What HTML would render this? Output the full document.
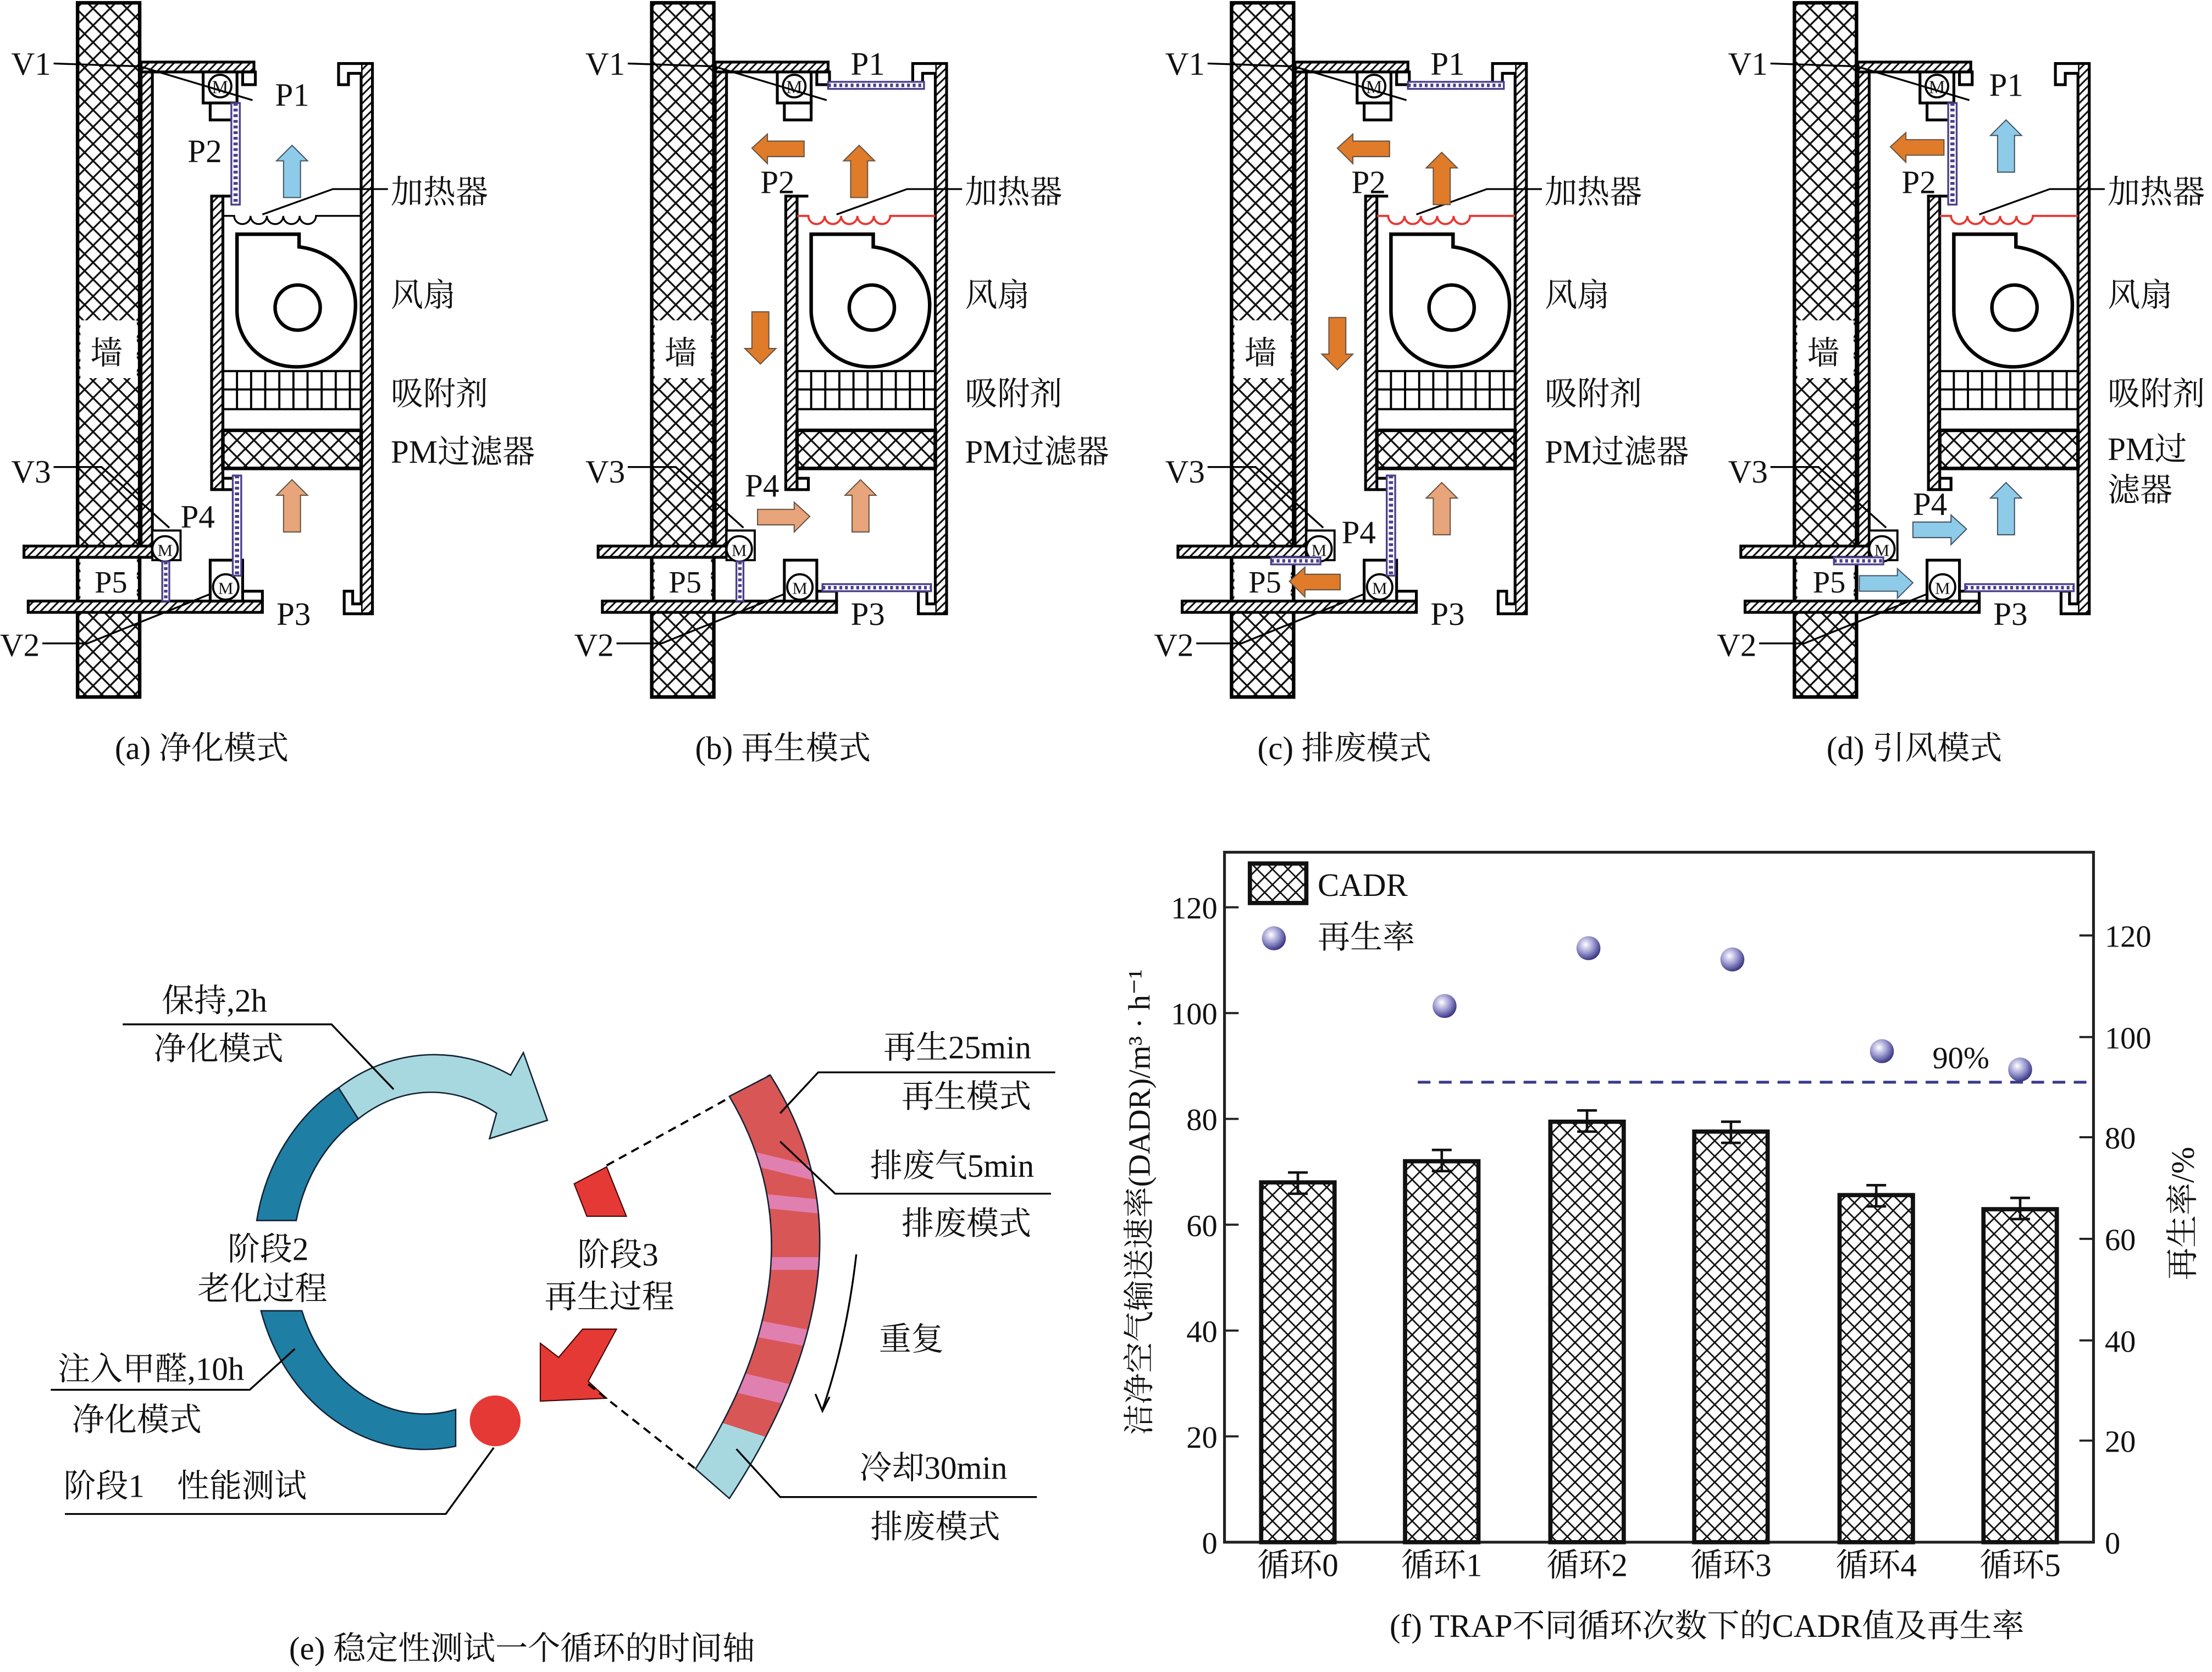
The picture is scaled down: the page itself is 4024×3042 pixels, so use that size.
<!DOCTYPE html>
<html><head><meta charset="utf-8"><style>
html,body{margin:0;padding:0;background:#fff;}
svg{display:block;}
text{font-family:"Liberation Serif","Noto Serif CJK SC",serif;fill:#111;}
</style></head><body>
<svg width="4024" height="3042" viewBox="0 0 1568 1185" preserveAspectRatio="none" xmlns="http://www.w3.org/2000/svg">
<defs>
 <pattern id="xh" patternUnits="userSpaceOnUse" width="12" height="12">
  <rect width="12" height="12" fill="#fff"/>
  <path d="M0,0 L12,12 M12,0 L0,12" stroke="#111" stroke-width="1.3"/>
 </pattern>
 <pattern id="xb" patternUnits="userSpaceOnUse" width="11" height="11">
  <rect width="11" height="11" fill="#fff"/>
  <path d="M0,0 L11,11 M11,0 L0,11" stroke="#111" stroke-width="1.1"/>
 </pattern>
 <pattern id="hs" patternUnits="userSpaceOnUse" width="6" height="6">
  <rect width="6" height="6" fill="#fff"/>
  <path d="M-1,7 L7,-1 M-1,1 L1,-1 M5,7 L7,5" stroke="#111" stroke-width="1.2"/>
 </pattern>
 <radialGradient id="dg" cx="0.38" cy="0.35" r="0.7">
  <stop offset="0" stop-color="#ffffff"/><stop offset="0.5" stop-color="#9a98d0"/><stop offset="1" stop-color="#2e2a78"/>
 </radialGradient>
 <clipPath id="bandclip"><path d="M546,762 Q628.5,892 517,1062 L493,1041 Q587,895 517,777 Z"/></clipPath>

 <g id="base">
  <rect x="55" y="2" width="44" height="492" fill="url(#xh)" stroke="#000" stroke-width="2.5"/>
  <rect x="57" y="227" width="40" height="41" fill="#fff"/>
  <rect x="57" y="395" width="40" height="31" fill="#fff"/>
  <rect x="100" y="51" width="8" height="337" fill="url(#hs)" stroke="#000" stroke-width="2"/>
  <rect x="100" y="44" width="80" height="7" fill="url(#hs)" stroke="#000" stroke-width="2"/>
  <rect x="172" y="51" width="9" height="9" fill="#fff" stroke="#000" stroke-width="2"/>
  <rect x="144" y="51" width="24" height="22" fill="#fff" stroke="#000" stroke-width="2"/>
  <circle cx="156" cy="61" r="8" fill="#fff" stroke="#000" stroke-width="1.5"/>
  <text x="156" y="66" font-size="13" text-anchor="middle">M</text>
  <rect x="149" y="73" width="19" height="12" fill="#fff" stroke="#000" stroke-width="2"/>
  <rect x="256" y="45" width="8" height="390" fill="url(#hs)" stroke="#000" stroke-width="2"/>
  <path d="M256,45 H240 V60 H247 V52 H256" fill="#fff" stroke="#000" stroke-width="2"/>
  <path d="M256,435 H244 V419 H250 V428 H256" fill="#fff" stroke="#000" stroke-width="2"/>
  <rect x="150" y="139" width="8" height="208" fill="url(#hs)" stroke="#000" stroke-width="2"/>
  <path d="M158,139 H166 M158,347 H166 V339 H158" fill="none" stroke="#000" stroke-width="2"/>
  <path d="M168,166 H212 V175 C236,178 252,195 252,216 C252,243 233,260 210,260 C186,260 168,242 168,220 Z" fill="#fff" stroke="#000" stroke-width="2.5"/>
  <circle cx="211" cy="218" r="16" fill="#fff" stroke="#000" stroke-width="2.5"/>
  <path d="M158,263 H256 M158,276 H256 M158,290 H256 M168,263 V290 M178,263 V290 M188,263 V290 M198,263 V290 M208,263 V290 M218,263 V290 M228,263 V290 M238,263 V290 M248,263 V290" stroke="#000" stroke-width="1.5" fill="none"/>
  <rect x="158" y="305" width="98" height="27" fill="url(#xh)" stroke="#000" stroke-width="2.5"/>
  <rect x="17" y="387" width="91" height="8" fill="url(#hs)" stroke="#000" stroke-width="2"/>
  <rect x="20" y="426" width="166" height="8" fill="url(#hs)" stroke="#000" stroke-width="2"/>
  <rect x="172" y="419" width="14" height="7" fill="#fff" stroke="#000" stroke-width="2"/>
  <rect x="108" y="376" width="20" height="21" fill="#fff" stroke="#000" stroke-width="1.5"/>
  <circle cx="117" cy="389" r="9" fill="#fff" stroke="#000" stroke-width="1.5"/>
  <text x="117" y="394" font-size="12" text-anchor="middle">M</text>
  <rect x="149" y="397" width="23" height="29" fill="#fff" stroke="#000" stroke-width="2"/>
  <circle cx="160" cy="416" r="9" fill="#fff" stroke="#000" stroke-width="1.5"/>
  <text x="160" y="421" font-size="12" text-anchor="middle">M</text>
  <path d="M38,45 L99,47 L179,71 M275,134 H236 L186,152 M38,331 H72 L120,374 M30,456 H62 L149,421" stroke="#000" stroke-width="1.3" fill="none"/>
 </g>
 <g id="pv1"><rect x="164" y="73" width="6" height="72" fill="#fff" stroke="#4a3f8a" stroke-width="1.3"/><line x1="167" y1="73" x2="167" y2="145" stroke="#4a3f8a" stroke-width="3" stroke-dasharray="2,2"/></g>
 <g id="pv2"><rect x="165" y="337" width="6" height="71" fill="#fff" stroke="#4a3f8a" stroke-width="1.3"/><line x1="168" y1="337" x2="168" y2="408" stroke="#4a3f8a" stroke-width="3" stroke-dasharray="2,2"/></g>
 <g id="pv3"><rect x="115" y="398" width="5" height="28" fill="#fff" stroke="#4a3f8a" stroke-width="1.3"/><line x1="117.5" y1="398" x2="117.5" y2="426" stroke="#4a3f8a" stroke-width="2.5" stroke-dasharray="2,2"/></g>
 <g id="ph1"><rect x="180" y="58" width="68" height="5" fill="#fff" stroke="#4a3f8a" stroke-width="1.3"/><line x1="180" y1="60.5" x2="248" y2="60.5" stroke="#4a3f8a" stroke-width="2.5" stroke-dasharray="2,2"/></g>
 <g id="ph3"><rect x="176" y="414" width="77" height="5" fill="#fff" stroke="#4a3f8a" stroke-width="1.3"/><line x1="176" y1="416.5" x2="253" y2="416.5" stroke="#4a3f8a" stroke-width="2.5" stroke-dasharray="2,2"/></g>
 <g id="phv"><rect x="83" y="395" width="35" height="5" fill="#fff" stroke="#4a3f8a" stroke-width="1.3"/><line x1="83" y1="397.5" x2="118" y2="397.5" stroke="#4a3f8a" stroke-width="2.5" stroke-dasharray="2,2"/></g>
</defs>
<rect width="1568" height="1185" fill="#fff"/>

<!-- Panel a -->
<g>
 <use href="#base"/>
 <use href="#pv1"/><use href="#pv2"/><use href="#pv3"/>
 <path d="M158,153 H166 a5.8,5.8 0 0 0 11.6,0 a5.8,5.8 0 0 0 11.6,0 a5.8,5.8 0 0 0 11.6,0 a5.8,5.8 0 0 0 11.6,0 a5.8,5.8 0 0 0 11.6,0 H256" fill="none" stroke="#000" stroke-width="1.3"/>
 <polygon points="207,103 218,114 213,114 213,140 201,140 201,114 196,114" fill="#8ecbe8" stroke="#456" stroke-width="0.8"/>
 <polygon points="207,340 218,351 213,351 213,377 201,377 201,351 196,351" fill="#e8a47a" stroke="#654" stroke-width="0.8"/>
 <text x="8" y="53" font-size="23">V1</text><text x="195" y="75" font-size="23">P1</text>
 <text x="133" y="115" font-size="23">P2</text>
 <text x="277" y="144" font-size="23">加热器</text><text x="277" y="217" font-size="23">风扇</text>
 <text x="277" y="287" font-size="23">吸附剂</text><text x="277" y="328" font-size="23">PM过滤器</text>
 <text x="8" y="342" font-size="23">V3</text><text x="128" y="374" font-size="23">P4</text>
 <text x="67" y="420" font-size="22">P5</text><text x="196" y="443" font-size="23">P3</text>
 <text x="0" y="465" font-size="23">V2</text><text x="64" y="258" font-size="23">墙</text>
 <text x="143" y="538" font-size="23" text-anchor="middle">(a) 净化模式</text>
</g>

<!-- Panel b -->
<g transform="translate(407,0)">
 <use href="#base"/>
 <use href="#ph1"/><use href="#pv3"/><use href="#ph3"/>
 <path d="M158,153 H166 a5.8,5.8 0 0 0 11.6,0 a5.8,5.8 0 0 0 11.6,0 a5.8,5.8 0 0 0 11.6,0 a5.8,5.8 0 0 0 11.6,0 a5.8,5.8 0 0 0 11.6,0 H256" fill="none" stroke="#e53935" stroke-width="1.5"/>
 <polygon points="126,105 137,95 137,100 163,100 163,111 137,111 137,116" fill="#e07b2a" stroke="#654" stroke-width="0.8"/>
 <polygon points="202,103 213,114 208,114 208,140 196,140 196,114 191,114" fill="#e07b2a" stroke="#654" stroke-width="0.8"/>
 <polygon points="132,258 121,247 126,247 126,221 138,221 138,247 143,247" fill="#e07b2a" stroke="#654" stroke-width="0.8"/>
 <polygon points="167,366 156,356 156,361 130,361 130,372 156,372 156,377" fill="#e8a47a" stroke="#654" stroke-width="0.8"/>
 <polygon points="203,340 214,351 209,351 209,377 197,377 197,351 192,351" fill="#e8a47a" stroke="#654" stroke-width="0.8"/>
 <text x="8" y="53" font-size="23">V1</text><text x="196" y="53" font-size="23">P1</text>
 <text x="132" y="137" font-size="23">P2</text>
 <text x="277" y="144" font-size="23">加热器</text><text x="277" y="217" font-size="23">风扇</text>
 <text x="277" y="287" font-size="23">吸附剂</text><text x="277" y="328" font-size="23">PM过滤器</text>
 <text x="8" y="342" font-size="23">V3</text><text x="121" y="352" font-size="23">P4</text>
 <text x="67" y="420" font-size="22">P5</text><text x="196" y="443" font-size="23">P3</text>
 <text x="0" y="465" font-size="23">V2</text><text x="64" y="258" font-size="23">墙</text>
 <text x="148" y="538" font-size="23" text-anchor="middle">(b) 再生模式</text>
</g>

<!-- Panel c -->
<g transform="translate(818,0)">
 <use href="#base"/>
 <use href="#ph1"/><use href="#pv2"/><use href="#phv"/>
 <path d="M158,153 H166 a5.8,5.8 0 0 0 11.6,0 a5.8,5.8 0 0 0 11.6,0 a5.8,5.8 0 0 0 11.6,0 a5.8,5.8 0 0 0 11.6,0 a5.8,5.8 0 0 0 11.6,0 H256" fill="none" stroke="#e53935" stroke-width="1.5"/>
 <polygon points="130,105 141,95 141,100 167,100 167,111 141,111 141,116" fill="#e07b2a" stroke="#654" stroke-width="0.8"/>
 <polygon points="204,108 215,119 210,119 210,145 198,145 198,119 193,119" fill="#e07b2a" stroke="#654" stroke-width="0.8"/>
 <polygon points="130,262 119,251 124,251 124,225 136,225 136,251 141,251" fill="#e07b2a" stroke="#654" stroke-width="0.8"/>
 <polygon points="96,412 107,402 107,407 132,407 132,418 107,418 107,423" fill="#e07b2a" stroke="#654" stroke-width="0.8"/>
 <polygon points="204,342 215,353 210,353 210,379 198,379 198,353 193,353" fill="#e8a47a" stroke="#654" stroke-width="0.8"/>
 <text x="8" y="53" font-size="23">V1</text><text x="196" y="53" font-size="23">P1</text>
 <text x="140" y="137" font-size="23">P2</text>
 <text x="277" y="144" font-size="23">加热器</text><text x="277" y="217" font-size="23">风扇</text>
 <text x="277" y="287" font-size="23">吸附剂</text><text x="277" y="328" font-size="23">PM过滤器</text>
 <text x="8" y="342" font-size="23">V3</text><text x="133" y="385" font-size="23">P4</text>
 <text x="67" y="420" font-size="22">P5</text><text x="196" y="443" font-size="23">P3</text>
 <text x="0" y="465" font-size="23">V2</text><text x="64" y="258" font-size="23">墙</text>
 <text x="135" y="538" font-size="23" text-anchor="middle">(c) 排废模式</text>
</g>

<!-- Panel d -->
<g transform="translate(1217,0)">
 <use href="#base"/>
 <use href="#pv1"/><use href="#phv"/><use href="#ph3"/>
 <path d="M158,153 H166 a5.8,5.8 0 0 0 11.6,0 a5.8,5.8 0 0 0 11.6,0 a5.8,5.8 0 0 0 11.6,0 a5.8,5.8 0 0 0 11.6,0 a5.8,5.8 0 0 0 11.6,0 H256" fill="none" stroke="#e53935" stroke-width="1.5"/>
 <polygon points="123,104 134,94 134,99 161,99 161,110 134,110 134,115" fill="#e07b2a" stroke="#654" stroke-width="0.8"/>
 <polygon points="205,85 216,96 211,96 211,122 199,122 199,96 194,96" fill="#8ecbe8" stroke="#456" stroke-width="0.8"/>
 <polygon points="177,375 166,365 166,370 139,370 139,381 166,381 166,386" fill="#8ecbe8" stroke="#456" stroke-width="0.8"/>
 <polygon points="139,413 128,403 128,408 101,408 101,419 128,419 128,424" fill="#8ecbe8" stroke="#456" stroke-width="0.8"/>
 <polygon points="205,342 216,353 211,353 211,379 199,379 199,353 194,353" fill="#8ecbe8" stroke="#456" stroke-width="0.8"/>
 <text x="8" y="53" font-size="23">V1</text><text x="193" y="68" font-size="23">P1</text>
 <text x="131" y="137" font-size="23">P2</text>
 <text x="277" y="144" font-size="23">加热器</text><text x="277" y="217" font-size="23">风扇</text>
 <text x="277" y="287" font-size="23">吸附剂</text><text x="277" y="326" font-size="23">PM过</text><text x="277" y="355" font-size="23">滤器</text>
 <text x="8" y="342" font-size="23">V3</text><text x="139" y="365" font-size="23">P4</text>
 <text x="68" y="420" font-size="22">P5</text><text x="196" y="443" font-size="23">P3</text>
 <text x="0" y="465" font-size="23">V2</text><text x="64" y="258" font-size="23">墙</text>
 <text x="140" y="538" font-size="23" text-anchor="middle">(d) 引风模式</text>
</g>

<!-- Panel e -->
<g>
 <path d="M182,865 A121,137 0 0 1 240,771 L254,793 A93,112 0 0 0 210,865 Z" fill="#1f7ea3" stroke="#123" stroke-width="1"/>
 <path d="M240,771 A121,137 0 0 1 362,762 L371,746 L388,794 L347,807 L352,789 A93,112 0 0 0 254,793 Z" fill="#a8d8df" stroke="#123" stroke-width="1"/>
 <path d="M185,929 A121,137 0 0 0 323,1025 L323,999 A93,112 0 0 1 214,929 Z" fill="#1f7ea3" stroke="#123" stroke-width="1"/>
 <circle cx="351" cy="1007" r="18" fill="#e53935"/>
 <polygon points="407,839 430,827 444,862 416,862" fill="#e53935" stroke="#400" stroke-width="0.8"/>
 <polygon points="383,952 396,962 413,942 437,942 417,979 430,991 383,993" fill="#e53935" stroke="#400" stroke-width="0.8"/>
 <path d="M430,826 L546,762 M417,981 L493,1041" stroke="#000" stroke-width="1.5" stroke-dasharray="6,4" fill="none"/>
 <g clip-path="url(#bandclip)">
  <rect x="480" y="750" width="160" height="320" fill="#d95657"/>
  <polygon points="480,803 640,842 640,852 480,813" fill="#e080b0"/>
  <polygon points="480,840 640,856 640,866 480,850" fill="#e080b0"/>
  <polygon points="480,891 640,891 640,900 480,900" fill="#e080b0"/>
  <polygon points="480,925 640,955 640,967 480,937" fill="#e080b0"/>
  <polygon points="480,962 640,1000 640,1015 480,977" fill="#e080b0"/>
  <polygon points="480,998 640,1050 640,1080 480,1080" fill="#a8d8df"/>
 </g>
 <path d="M546,762 Q628.5,892 517,1062 L493,1041 Q587,895 517,777 Z" fill="none" stroke="#123" stroke-width="1"/>
 <path d="M87,726 H235 L279,772 M36,985 H177 L209,956 M46,1073 H316 L350,1026 M748,760 H580 L553,789 M745,846 H592 L553,809 M735,1061 H553 L522,1027" stroke="#000" stroke-width="1.3" fill="none"/>
 <path d="M607,889 Q600,950 583,999" stroke="#000" stroke-width="1.3" fill="none"/>
 <path d="M578,988 L583,1000 L588,990" stroke="#000" stroke-width="1.3" fill="none"/>
 <text x="152" y="717" font-size="23" text-anchor="middle">保持,2h</text>
 <text x="155" y="751" font-size="23" text-anchor="middle">净化模式</text>
 <text x="190" y="893" font-size="23" text-anchor="middle">阶段2</text>
 <text x="186" y="921" font-size="23" text-anchor="middle">老化过程</text>
 <text x="107" y="978" font-size="23" text-anchor="middle">注入甲醛,10h</text>
 <text x="97" y="1014" font-size="23" text-anchor="middle">净化模式</text>
 <text x="45" y="1061" font-size="23">阶段1　性能测试</text>
 <text x="438" y="897" font-size="23" text-anchor="middle">阶段3</text>
 <text x="432" y="927" font-size="23" text-anchor="middle">再生过程</text>
 <text x="731" y="750" font-size="23" text-anchor="end">再生25min</text>
 <text x="731" y="785" font-size="23" text-anchor="end">再生模式</text>
 <text x="733" y="834" font-size="23" text-anchor="end">排废气5min</text>
 <text x="731" y="875" font-size="23" text-anchor="end">排废模式</text>
 <text x="646" y="957" font-size="23" text-anchor="middle">重复</text>
 <text x="714" y="1048" font-size="23" text-anchor="end">冷却30min</text>
 <text x="709" y="1090" font-size="23" text-anchor="end">排废模式</text>
 <text x="370" y="1176" font-size="23" text-anchor="middle">(e) 稳定性测试一个循环的时间轴</text>
</g>

<!-- Panel f -->
<g>
 <rect x="868" y="604" width="616" height="489" fill="none" stroke="#222" stroke-width="2"/>
 <g fill="url(#xb)" stroke="#111" stroke-width="3">
  <rect x="894" y="838" width="52" height="255"/>
  <rect x="996" y="823" width="52" height="270"/>
  <rect x="1099" y="795" width="52" height="298"/>
  <rect x="1201" y="802" width="52" height="291"/>
  <rect x="1304" y="847" width="52" height="246"/>
  <rect x="1406" y="857" width="52" height="236"/>
 </g>
 <g stroke="#111" stroke-width="1.8" fill="none">
  <path d="M920,831 V846 M913,831 H927 M913,846 H927"/>
  <path d="M1022,815 V830 M1015,815 H1029 M1015,830 H1029"/>
  <path d="M1125,787 V802 M1118,787 H1132 M1118,802 H1132"/>
  <path d="M1227,795 V810 M1220,795 H1234 M1220,810 H1234"/>
  <path d="M1330,840 V855 M1323,840 H1337 M1323,855 H1337"/>
  <path d="M1432,849 V864 M1425,849 H1439 M1425,864 H1439"/>
 </g>
 <line x1="1005" y1="767" x2="1484" y2="767" stroke="#3a3a8a" stroke-width="2" stroke-dasharray="9,6"/>
 <g fill="url(#dg)">
  <circle cx="1024" cy="713" r="8.5"/><circle cx="1126" cy="672" r="8.5"/><circle cx="1228" cy="680" r="8.5"/>
  <circle cx="1334" cy="745" r="8.5"/><circle cx="1432" cy="758" r="8.5"/><circle cx="903" cy="665" r="8.5"/>
 </g>
 <text x="1390" y="757" font-size="22" text-anchor="middle">90%</text>
 <rect x="886" y="612" width="40" height="28" fill="url(#xb)" stroke="#111" stroke-width="3"/>
 <text x="934" y="635" font-size="23">CADR</text>
 <text x="934" y="672" font-size="23">再生率</text>
 <g stroke="#222" stroke-width="1.5">
  <path d="M868,1093 h10 M868,1018 h10 M868,943 h10 M868,868 h10 M868,793 h10 M868,718 h10 M868,643 h10"/>
  <path d="M1484,1093 h-10 M1484,1021 h-10 M1484,950 h-10 M1484,878 h-10 M1484,806 h-10 M1484,735 h-10 M1484,663 h-10"/>
 </g>
 <g font-size="22" text-anchor="end">
  <text x="863" y="1101">0</text><text x="863" y="1026">20</text><text x="863" y="951">40</text><text x="863" y="876">60</text>
  <text x="863" y="801">80</text><text x="863" y="726">100</text><text x="863" y="651">120</text>
 </g>
 <g font-size="22">
  <text x="1492" y="1101">0</text><text x="1492" y="1029">20</text><text x="1492" y="958">40</text><text x="1492" y="886">60</text>
  <text x="1492" y="814">80</text><text x="1492" y="743">100</text><text x="1492" y="671">120</text>
 </g>
 <g font-size="23" text-anchor="middle">
  <text x="920" y="1117">循环0</text><text x="1022" y="1117">循环1</text><text x="1125" y="1117">循环2</text>
  <text x="1227" y="1117">循环3</text><text x="1330" y="1117">循环4</text><text x="1432" y="1117">循环5</text>
 </g>
 <text x="1210" y="1160" font-size="23" text-anchor="middle">(f) TRAP不同循环次数下的CADR值及再生率</text>
 <text transform="translate(815,852) rotate(-90)" font-size="22" text-anchor="middle">洁净空气输送速率(DADR)/m³ · h⁻¹</text>
 <text transform="translate(1555,860) rotate(-90)" font-size="23" text-anchor="middle">再生率/%</text>
</g>
</svg>
</body></html>
